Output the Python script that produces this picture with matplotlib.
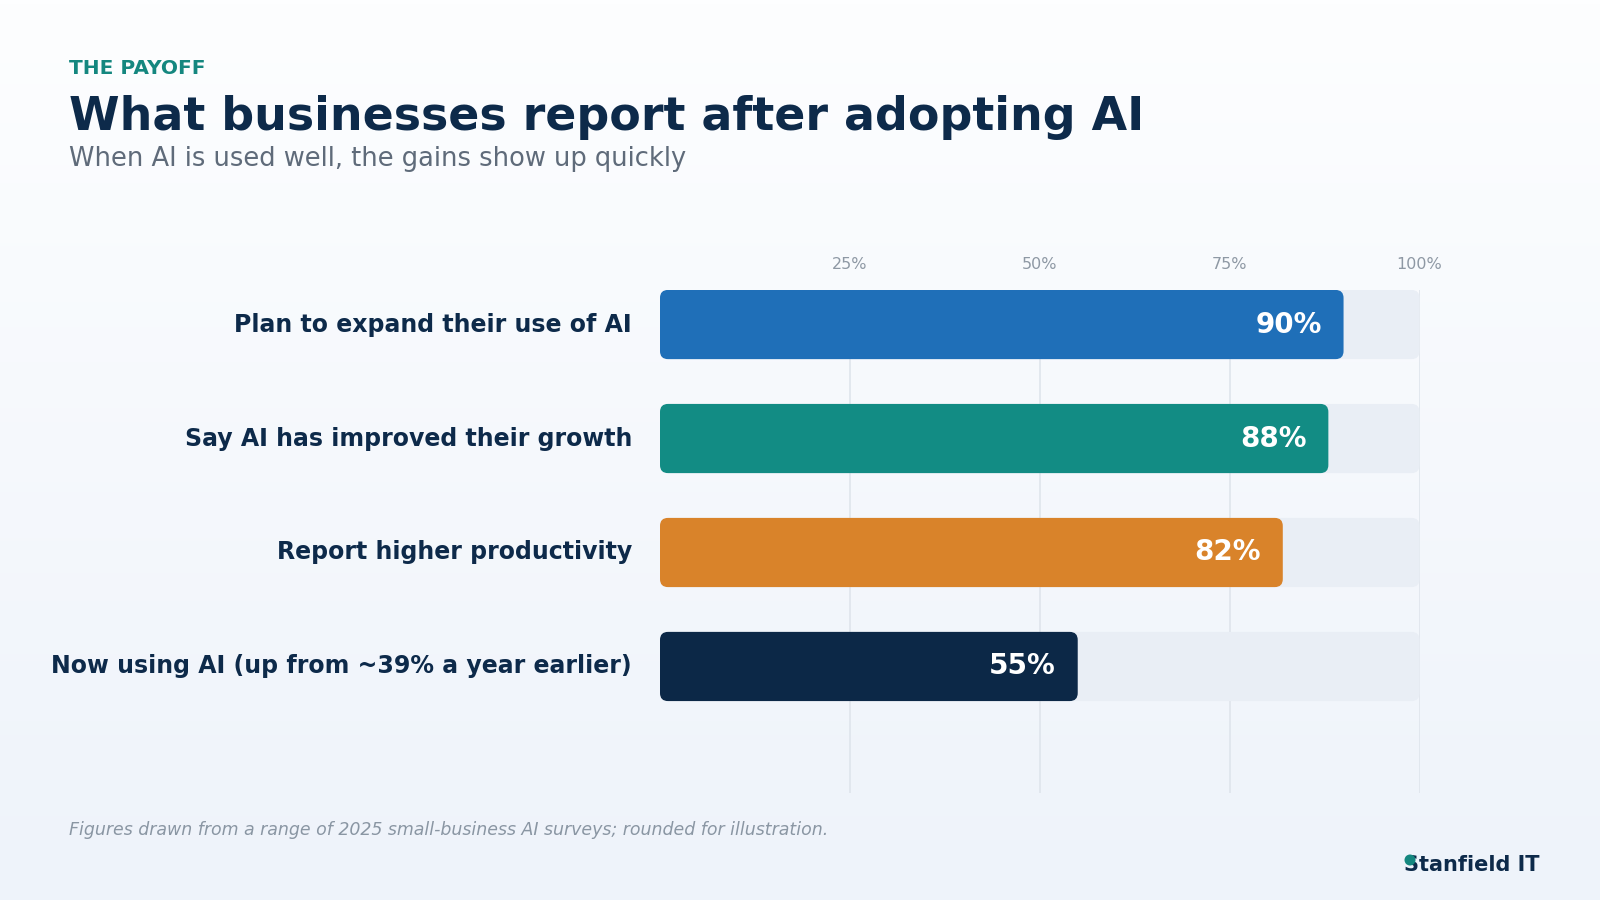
import matplotlib
matplotlib.use("Agg")
import matplotlib.pyplot as plt
import numpy as np
from matplotlib.patches import FancyBboxPatch, Circle
from matplotlib.colors import LinearSegmentedColormap

categories = [
    "Plan to expand their use of AI",
    "Say AI has improved their growth",
    "Report higher productivity",
    "Now using AI (up from ~39% a year earlier)",
]
values = [90, 88, 82, 55]
value_labels = ["90%", "88%", "82%", "55%"]
bar_colors = ["#1f6fb8", "#128c84", "#d9832a", "#0c2847"]
tick_values = [25, 50, 75, 100]
tick_labels = ["25%", "50%", "75%", "100%"]

NAVY = "#0d2a4a"
W, H = 1600, 900
fig = plt.figure(figsize=(16, 9), dpi=100)

# background gradient
bg = fig.add_axes([0, 0, 1, 1], zorder=-10)
grad = np.linspace(0, 1, 256).reshape(-1, 1)
cmap = LinearSegmentedColormap.from_list("bg", ["#fdfeff", "#eef3fa"])
bg.imshow(grad, aspect="auto", cmap=cmap, extent=[0, 1, 0, 1], origin="upper")
bg.axis("off")

ax_left, ax_right = 660 / W, 1419.5 / W
ax_top, ax_bot = 1 - 290 / H, 1 - 793 / H
ax = fig.add_axes([ax_left, ax_bot, ax_right - ax_left, ax_top - ax_bot])
ax.set_facecolor("none")
n = len(categories)
ax.set_xlim(0, 100)
ax.set_ylim(n - 1 + 1.11, -0.303)
for s in ax.spines.values():
    s.set_visible(False)
ax.set_xticks(tick_values)
ax.set_xticklabels(tick_labels)
ax.xaxis.tick_top()
ax.tick_params(axis="x", length=0, pad=13, labelsize=11.5, labelcolor="#8e98a4")
ax.set_yticks([])
ax.grid(axis="x", color="#dfe5ec", linewidth=1.2, zorder=0)
ax.set_axisbelow(True)

# aspect for rounding
px_x = 100 / (W * (ax_right - ax_left))
px_y = (n - 1 + 1.11 + 0.303) / (H * (ax_top - ax_bot))
aspect = px_y / px_x
r = 8 * px_x
bh = 0.607
for i, (v, c, lab, cat) in enumerate(zip(values, bar_colors, value_labels, categories)):
    track = FancyBboxPatch((0, i - bh / 2), 100, bh,
                           boxstyle=f"round,pad=0,rounding_size={r}",
                           mutation_aspect=aspect, fc="#e9eef5", ec="none", zorder=1)
    ax.add_patch(track)
    bar = FancyBboxPatch((0, i - bh / 2), v, bh,
                         boxstyle=f"round,pad=0,rounding_size={r}",
                         mutation_aspect=aspect, fc=c, ec="none", zorder=2)
    ax.add_patch(bar)
    ax.text(v - 22 * px_x, i, lab, ha="right", va="center", color="white",
            fontsize=20, fontweight="bold", zorder=3)
    ax.text(-28 * px_x, i, cat, ha="right", va="center", color=NAVY,
            fontsize=17, fontweight="bold", clip_on=False)

fig.text(69 / W, 1 - 69 / H, "THE PAYOFF", color="#14877f", fontsize=14.5,
         fontweight="bold", va="center", ha="left")
fig.text(69 / W, 1 - 117 / H, "What businesses report after adopting AI", color=NAVY,
         fontsize=33, fontweight="bold", va="center", ha="left")
fig.text(69 / W, 1 - 159 / H, "When AI is used well, the gains show up quickly",
         color="#5f6b7a", fontsize=18.5, va="center", ha="left")
fig.text(69 / W, 1 - 830 / H,
         "Figures drawn from a range of 2025 small-business AI surveys; rounded for illustration.",
         color="#8a96a3", fontsize=12.5, style="italic", va="center", ha="left")
fig.text(1539 / W, 1 - 865 / H, "Stanfield IT", color=NAVY, fontsize=15,
         fontweight="bold", va="center", ha="right")
fig.patches.append(Circle((14.10, 0.40), 0.055, transform=fig.dpi_scale_trans,
                          fc="#14877f", ec="none", zorder=5))

fig.savefig("out.png", dpi=100)
